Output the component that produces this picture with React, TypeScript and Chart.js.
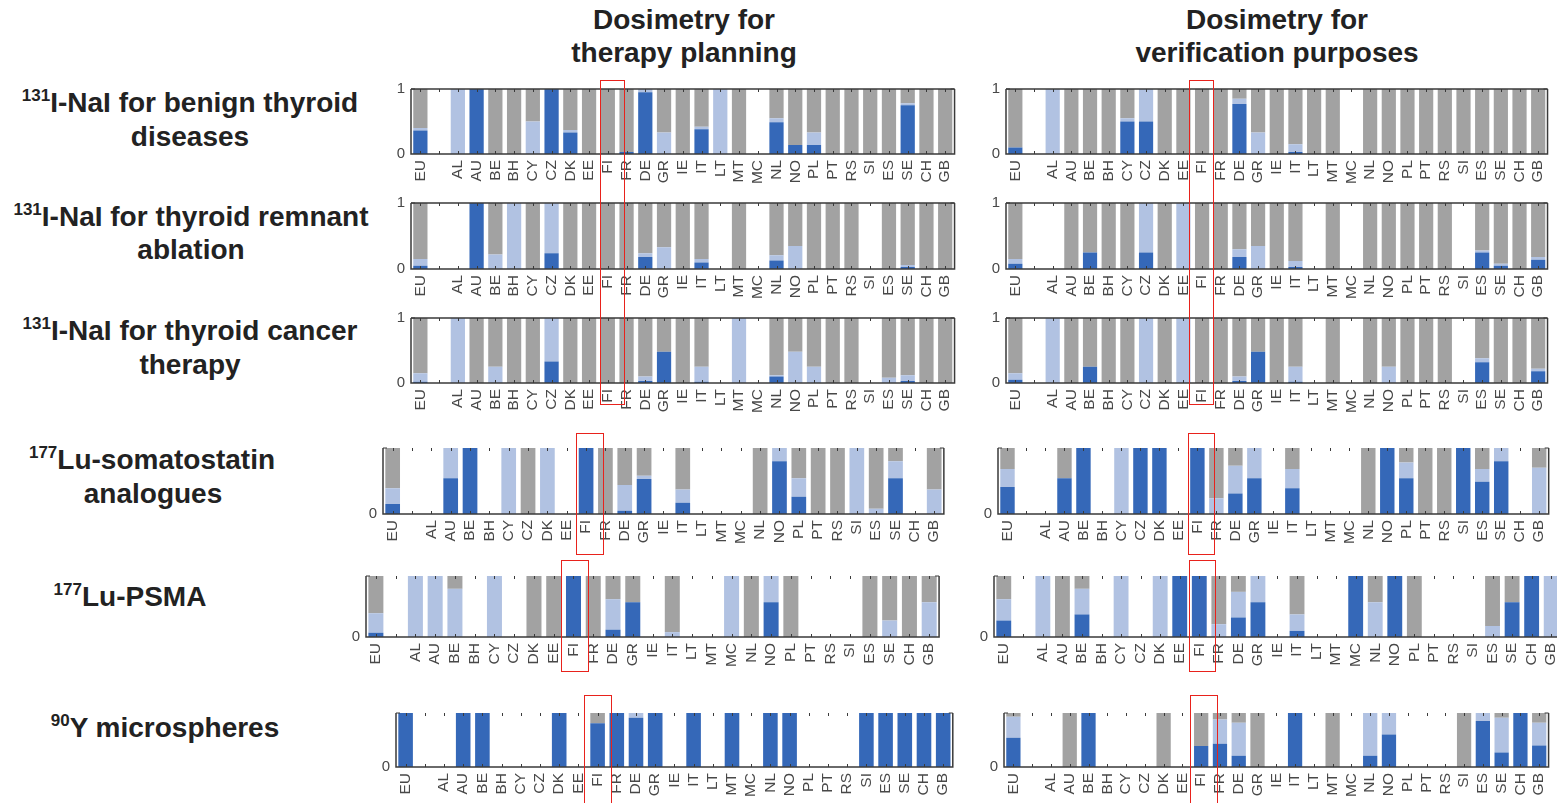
import React, { useEffect, useRef } from "react";
import { Chart, registerables } from "chart.js";

Chart.register(...registerables);

// Country codes along every x axis; the empty slot separates the EU average.
const CATEGORIES = ["EU", "", "AL", "AU", "BE", "BH", "CY", "CZ", "DK", "EE", "FI", "FR", "DE", "GR", "IE", "IT", "LT", "MT", "MC", "NL", "NO", "PL", "PT", "RS", "SI", "ES", "SE", "CH", "GB"];
const Y_TICKS = ["0", "1"];

// 131I-NaI for benign thyroid diseases
const benignPlanDark = [0.36, 0, 0, 1, 0, 0, 0, 1, 0.33, 0, 0, 0.03, 0.95, 0, 0, 0.38, 0, 0, 0, 0.49, 0.14, 0.14, 0, 0, 0, 0, 0.75, 0, 0];
const benignPlanLight = [0.04, 0, 1, 0, 0, 0, 0.5, 0, 0.04, 0, 0, 0, 0.05, 0.33, 0, 0.04, 1, 0, 0, 0.06, 0, 0.19, 0, 0, 0, 0, 0.03, 0, 0];
const benignPlanGray = [0.6, 0, 0, 0, 1, 1, 0.5, 0, 0.63, 1, 1, 0.97, 0, 0.67, 1, 0.58, 0, 1, 0, 0.45, 0.86, 0.67, 1, 1, 1, 1, 0.22, 1, 1];
const benignVerifDark = [0.1, 0, 0, 0, 0, 0, 0.5, 0.5, 0, 0, 0, 0, 0.77, 0, 0, 0.03, 0, 0, 0, 0, 0, 0, 0, 0, 0, 0, 0, 0, 0];
const benignVerifLight = [0, 0, 1, 0, 0, 0, 0.05, 0.5, 0, 0, 0, 0, 0.08, 0.33, 0, 0.12, 0, 0, 0, 0, 0, 0, 0, 0, 0, 0, 0, 0, 0];
const benignVerifGray = [0.9, 0, 0, 1, 1, 1, 0.45, 0, 1, 1, 1, 1, 0.15, 0.67, 1, 0.85, 1, 1, 0, 1, 1, 1, 1, 1, 1, 1, 1, 1, 1];

// 131I-NaI for thyroid remnant ablation
const remnantPlanDark = [0.05, 0, 0, 1, 0, 0, 0, 0.24, 0, 0, 0, 0, 0.18, 0, 0, 0.1, 0, 0, 0, 0.13, 0, 0, 0, 0, 0, 0, 0.03, 0, 0];
const remnantPlanLight = [0.1, 0, 0, 0, 0.22, 1, 0, 0.76, 0, 0, 0, 0, 0.06, 0.33, 0, 0.05, 0, 0, 0, 0.08, 0.35, 0, 0, 0, 0, 0, 0.03, 0, 0];
const remnantPlanGray = [0.85, 0, 0, 0, 0.78, 0, 1, 0, 1, 1, 1, 1, 0.76, 0.67, 1, 0.85, 0, 1, 0, 0.79, 0.65, 1, 1, 1, 0, 1, 0.94, 1, 1];
const remnantVerifDark = [0.08, 0, 0, 0, 0.25, 0, 0, 0.25, 0, 0, 0, 0, 0.18, 0, 0, 0.03, 0, 0, 0, 0, 0, 0, 0, 0, 0, 0.25, 0.05, 0, 0.14];
const remnantVerifLight = [0.07, 0, 0, 0, 0, 0, 0, 0.75, 0, 1, 0, 0, 0.12, 0.35, 0, 0.09, 0, 0, 0, 0, 0, 0, 0, 0, 0, 0.03, 0.03, 0, 0.04];
const remnantVerifGray = [0.85, 0, 0, 1, 0.75, 1, 1, 0, 1, 0, 1, 1, 0.7, 0.65, 1, 0.88, 0, 1, 0, 1, 1, 1, 1, 1, 0, 0.72, 0.92, 1, 0.82];

// 131I-NaI for thyroid cancer therapy
const cancerPlanDark = [0.02, 0, 0, 0, 0, 0, 0, 0.33, 0, 0, 0, 0, 0.03, 0.48, 0, 0.02, 0, 0, 0, 0.1, 0, 0, 0, 0, 0, 0, 0.03, 0, 0];
const cancerPlanLight = [0.13, 0, 1, 0, 0.25, 0, 0, 0.67, 0, 0, 0, 0, 0.07, 0, 0, 0.23, 0, 1, 0, 0.02, 0.48, 0.25, 0, 0, 0, 0.08, 0.09, 0, 0];
const cancerPlanGray = [0.85, 0, 0, 1, 0.75, 1, 1, 0, 1, 1, 1, 1, 0.9, 0.52, 1, 0.75, 0, 0, 0, 0.88, 0.52, 0.75, 1, 1, 0, 0.92, 0.88, 1, 1];
const cancerVerifDark = [0.05, 0, 0, 0, 0.25, 0, 0, 0, 0, 0, 0, 0, 0.03, 0.48, 0, 0.02, 0, 0, 0, 0, 0, 0, 0, 0, 0, 0.32, 0, 0, 0.18];
const cancerVerifLight = [0.1, 0, 1, 0, 0, 0, 0, 1, 0, 1, 0, 0, 0.07, 0, 0, 0.23, 0, 0, 0, 0, 0.25, 0, 0, 0, 0, 0.06, 0, 0, 0.04];
const cancerVerifGray = [0.85, 0, 0, 1, 0.75, 1, 1, 0, 1, 0, 1, 1, 0.9, 0.52, 1, 0.75, 0, 1, 0, 1, 0.75, 1, 1, 1, 0, 0.62, 1, 1, 0.78];

// 177Lu-somatostatin analogues
const sstPlanDark = [0.15, 0, 0, 0.54, 1, 0, 0, 0, 0, 0, 1, 0, 0.05, 0.53, 0, 0.17, 0, 0, 0, 0, 0.8, 0.26, 0, 0, 0, 0, 0.54, 0, 0];
const sstPlanLight = [0.24, 0, 0, 0.46, 0, 0, 1, 0, 1, 0, 0, 0, 0.39, 0.05, 0, 0.2, 0, 0, 0, 0, 0.2, 0.28, 0, 0, 1, 0.08, 0.26, 0, 0.37];
const sstPlanGray = [0.61, 0, 0, 0, 0, 0, 0, 1, 0, 0, 0, 1, 0.56, 0.42, 0, 0.63, 0, 0, 0, 1, 0, 0.46, 1, 1, 0, 0.92, 0.2, 0, 0.63];
const sstVerifDark = [0.41, 0, 0, 0.54, 1, 0, 0, 1, 1, 0, 1, 0, 0.31, 0.54, 0, 0.39, 0, 0, 0, 0, 1, 0.54, 0, 0, 1, 0.49, 0.8, 0, 0];
const sstVerifLight = [0.27, 0, 0, 0, 0, 0, 1, 0, 0, 0, 0, 0.24, 0.42, 0.46, 0, 0.29, 0, 0, 0, 0, 0, 0.24, 0, 0, 0, 0.19, 0.2, 0, 0.7];
const sstVerifGray = [0.32, 0, 0, 0.46, 0, 0, 0, 0, 0, 0, 0, 0.76, 0.27, 0, 0, 0.32, 0, 0, 0, 1, 0, 0.22, 1, 1, 0, 0.32, 0, 0, 0.3];

// 177Lu-PSMA
const psmaPlanDark = [0.07, 0, 0, 0, 0, 0, 0, 0, 0, 0, 1, 0, 0.12, 0.57, 0, 0, 0, 0, 0, 0, 0.57, 0, 0, 0, 0, 0, 0, 0, 0];
const psmaPlanLight = [0.32, 0, 1, 1, 0.79, 0, 1, 0, 0, 0, 0, 0, 0.5, 0, 0, 0.08, 0, 0, 1, 0, 0.43, 0, 0, 0, 0, 0, 0.27, 0, 0.57];
const psmaPlanGray = [0.61, 0, 0, 0, 0.21, 0, 0, 0, 1, 1, 0, 1, 0.38, 0.43, 0, 0.92, 0, 0, 0, 1, 0, 1, 0, 0, 0, 1, 0.73, 1, 0.43];
const psmaVerifDark = [0.27, 0, 0, 0, 0.37, 0, 0, 0, 0, 1, 1, 0, 0.32, 0.57, 0, 0.1, 0, 0, 1, 0, 1, 0, 0, 0, 0, 0, 0.57, 1, 0];
const psmaVerifLight = [0.35, 0, 1, 0, 0.42, 0, 1, 0, 1, 0, 0, 0.21, 0.42, 0.43, 0, 0.27, 0, 0, 0, 0.57, 0, 0, 0, 0, 0, 0.18, 0, 0, 1];
const psmaVerifGray = [0.38, 0, 0, 1, 0.21, 0, 0, 0, 0, 0, 0, 0.79, 0.26, 0, 0, 0.63, 0, 0, 0, 0.43, 0, 1, 0, 0, 0, 0.82, 0.43, 0, 0];

// 90Y microspheres
const yPlanDark = [1, 0, 0, 1, 1, 0, 0, 0, 1, 0, 0.81, 1, 0.91, 1, 0, 1, 0, 1, 0, 1, 1, 0, 0, 0, 1, 1, 1, 1, 1];
const yPlanLight = [0, 0, 0, 0, 0, 0, 0, 0, 0, 0, 0, 0, 0.09, 0, 0, 0, 0, 0, 0, 0, 0, 0, 0, 0, 0, 0, 0, 0, 0];
const yPlanGray = [0, 0, 0, 0, 0, 0, 0, 0, 0, 0, 0.19, 0, 0, 0, 0, 0, 0, 0, 0, 0, 0, 0, 0, 0, 0, 0, 0, 0, 0];
const yVerifDark = [0.54, 0, 0, 0, 1, 0, 0, 0, 0, 0, 0.39, 0.43, 0.21, 0, 0, 1, 0, 0, 0, 0.21, 0.6, 0, 0, 0, 0, 0.85, 0.27, 1, 0.4];
const yVerifLight = [0.39, 0, 0, 0, 0, 0, 0, 0, 0, 0, 0, 0.45, 0.61, 0, 0, 0, 0, 0, 0, 0.79, 0.4, 0, 0, 0, 0, 0.15, 0.64, 0, 0.42];
const yVerifGray = [0.07, 0, 0, 1, 0, 0, 0, 0, 1, 0, 0.61, 0.12, 0.18, 1, 0, 0, 0, 1, 0, 0, 0, 0, 0, 0, 1, 0, 0.09, 0, 0.18];

const DARK = "#3568b8";
const LIGHT = "#b1c2e2";
const GRAY = "#a2a2a2";
const AXIS = "#3a3a3a";
const TICK_TEXT = "#484848";
const FONT = '"Liberation Sans", Arial, sans-serif';

const PAD_L = 44;
const PAD_T = 12;
const PAD_R = 12;
const AXIS_H = 44;

type Box = { x: number; y: number; w: number; h: number };

const PANELS: { box: Box; closedTop: boolean; series: number[][] }[] = [
  { box: { x: 411, y: 86, w: 547, h: 68 }, closedTop: true, series: [benignPlanDark, benignPlanLight, benignPlanGray] },
  { box: { x: 1006, y: 86, w: 545, h: 68 }, closedTop: true, series: [benignVerifDark, benignVerifLight, benignVerifGray] },
  { box: { x: 411, y: 200, w: 547, h: 69 }, closedTop: true, series: [remnantPlanDark, remnantPlanLight, remnantPlanGray] },
  { box: { x: 1006, y: 200, w: 545, h: 69 }, closedTop: true, series: [remnantVerifDark, remnantVerifLight, remnantVerifGray] },
  { box: { x: 411, y: 315, w: 547, h: 68 }, closedTop: true, series: [cancerPlanDark, cancerPlanLight, cancerPlanGray] },
  { box: { x: 1006, y: 315, w: 545, h: 68 }, closedTop: true, series: [cancerVerifDark, cancerVerifLight, cancerVerifGray] },
  { box: { x: 383, y: 445, w: 564, h: 69 }, closedTop: false, series: [sstPlanDark, sstPlanLight, sstPlanGray] },
  { box: { x: 998, y: 445, w: 554, h: 69 }, closedTop: false, series: [sstVerifDark, sstVerifLight, sstVerifGray] },
  { box: { x: 366, y: 573, w: 576, h: 64 }, closedTop: false, series: [psmaPlanDark, psmaPlanLight, psmaPlanGray] },
  { box: { x: 994, y: 573, w: 570, h: 64 }, closedTop: false, series: [psmaVerifDark, psmaVerifLight, psmaVerifGray] },
  { box: { x: 396, y: 710, w: 560, h: 57 }, closedTop: false, series: [yPlanDark, yPlanLight, yPlanGray] },
  { box: { x: 1004, y: 710, w: 548, h: 57 }, closedTop: false, series: [yVerifDark, yVerifLight, yVerifGray] },
];

// Red outlines around the FI column
const HIGHLIGHTS = [
  { l: 600, t: 80, r: 625, b: 405 },
  { l: 1189, t: 80, r: 1214, b: 405 },
  { l: 576, t: 433, r: 604, b: 555 },
  { l: 1188, t: 433, r: 1215, b: 555 },
  { l: 561, t: 560, r: 589, b: 672 },
  { l: 1189, t: 560, r: 1216, b: 672 },
  { l: 584, t: 695, r: 612, b: 806 },
  { l: 1190, t: 695, r: 1218, b: 806 },
];

// Axes box with inward tick marks drawn over the bars
const framePlugin = {
  id: "frame",
  afterDraw(chart: any, _args: any, opts: any) {
    const { ctx, chartArea: a, scales } = chart;
    ctx.save();
    ctx.strokeStyle = AXIS;
    ctx.lineWidth = 1.5;
    ctx.beginPath();
    if (opts.closedTop) {
      ctx.moveTo(a.left, a.top);
      ctx.lineTo(a.right, a.top);
    }
    ctx.moveTo(a.left, a.top);
    ctx.lineTo(a.left, a.bottom);
    ctx.lineTo(a.right, a.bottom);
    ctx.lineTo(a.right, a.top);
    ctx.stroke();
    ctx.lineWidth = 1;
    ctx.beginPath();
    for (let i = 0; i < CATEGORIES.length; i++) {
      const x = Math.round(scales.x.getPixelForValue(i)) + 0.5;
      ctx.moveTo(x, a.bottom);
      ctx.lineTo(x, a.bottom - 3);
      ctx.moveTo(x, a.top);
      ctx.lineTo(x, a.top + 3);
    }
    const y1 = scales.y.getPixelForValue(1);
    ctx.moveTo(a.left, y1);
    ctx.lineTo(a.left + 4, y1);
    ctx.moveTo(a.right, y1);
    ctx.lineTo(a.right - 4, y1);
    ctx.stroke();
    ctx.restore();
  },
};

function Panel({ box, closedTop, series }: { box: Box; closedTop: boolean; series: number[][] }) {
  const ref = useRef<HTMLCanvasElement>(null);
  const w = box.w + PAD_L + PAD_R;
  const h = box.h + PAD_T + AXIS_H;

  useEffect(() => {
    if (!ref.current) return;
    const colors = [DARK, LIGHT, GRAY];
    const chart = new Chart(ref.current, {
      type: "bar",
      data: {
        labels: CATEGORIES,
        datasets: series.map((values, i) => ({
          data: values,
          backgroundColor: colors[i],
          borderWidth: 0,
          barPercentage: 0.76,
          categoryPercentage: 1,
        })),
      },
      options: {
        animation: false,
        responsive: false,
        devicePixelRatio: 1,
        layout: { padding: { left: 0, top: PAD_T, right: PAD_R, bottom: 0 } },
        plugins: {
          legend: { display: false },
          tooltip: { enabled: false },
          frame: { closedTop },
        } as any,
        scales: {
          x: {
            stacked: true,
            offset: true,
            grid: { display: false, drawTicks: false },
            border: { display: false },
            ticks: {
              autoSkip: false,
              minRotation: 90,
              maxRotation: 90,
              padding: 6,
              color: TICK_TEXT,
              font: { family: FONT, size: 15.5 },
            },
            afterFit: (s: any) => {
              s.height = AXIS_H;
            },
          },
          y: {
            stacked: true,
            min: 0,
            max: 1,
            grid: { display: false, drawTicks: false },
            border: { display: false },
            ticks: {
              stepSize: 1,
              padding: 6,
              color: TICK_TEXT,
              font: { family: FONT, size: 15 },
              callback: (v: any) => (v === 0 ? Y_TICKS[0] : closedTop ? Y_TICKS[1] : ""),
            },
            afterFit: (s: any) => {
              s.width = PAD_L;
            },
          },
        },
      },
      plugins: [framePlugin],
    });
    return () => chart.destroy();
  }, []);

  return (
    <canvas
      ref={ref}
      width={w}
      height={h}
      style={{ position: "absolute", left: box.x - PAD_L, top: box.y - PAD_T, width: w, height: h }}
    />
  );
}

const labelStyle: React.CSSProperties = {
  position: "absolute",
  width: 700,
  textAlign: "center",
  fontWeight: "bold",
  fontSize: 28,
  lineHeight: "32px",
  whiteSpace: "nowrap",
  color: "#222",
};

const supStyle: React.CSSProperties = {
  fontSize: 17,
  verticalAlign: "baseline",
  position: "relative",
  top: -11,
};

function Line({ cx, cy, children }: { cx: number; cy: number; children: React.ReactNode }) {
  return <div style={{ ...labelStyle, left: cx - 350, top: cy - 16 }}>{children}</div>;
}

export default function App() {
  return (
    <div
      style={{
        position: "absolute",
        left: 0,
        top: 0,
        width: 1557,
        height: 803,
        overflow: "hidden",
        background: "#fff",
        fontFamily: FONT,
      }}
    >
      <Line cx={684} cy={20}>Dosimetry for</Line>
      <Line cx={684} cy={53}>therapy planning</Line>
      <Line cx={1277} cy={20}>Dosimetry for</Line>
      <Line cx={1277} cy={53}>verification purposes</Line>

      <Line cx={190} cy={103}><span style={supStyle}>131</span>I-NaI for benign thyroid</Line>
      <Line cx={190} cy={137}>diseases</Line>
      <Line cx={191} cy={217}><span style={supStyle}>131</span>I-NaI for thyroid remnant</Line>
      <Line cx={191} cy={250}>ablation</Line>
      <Line cx={190} cy={331}><span style={supStyle}>131</span>I-NaI for thyroid cancer</Line>
      <Line cx={190} cy={365}>therapy</Line>
      <Line cx={152} cy={460}><span style={supStyle}>177</span>Lu-somatostatin</Line>
      <Line cx={153} cy={494}>analogues</Line>
      <Line cx={130} cy={597}><span style={supStyle}>177</span>Lu-PSMA</Line>
      <Line cx={165} cy={728}><span style={supStyle}>90</span>Y microspheres</Line>

      {PANELS.map((p, i) => (
        <Panel key={i} box={p.box} closedTop={p.closedTop} series={p.series} />
      ))}

      {HIGHLIGHTS.map((r, i) => (
        <div
          key={"h" + i}
          style={{
            position: "absolute",
            left: r.l,
            top: r.t,
            width: r.r - r.l,
            height: r.b - r.t,
            border: "1.5px solid #e8221c",
            boxSizing: "border-box",
            pointerEvents: "none",
          }}
        />
      ))}
    </div>
  );
}
